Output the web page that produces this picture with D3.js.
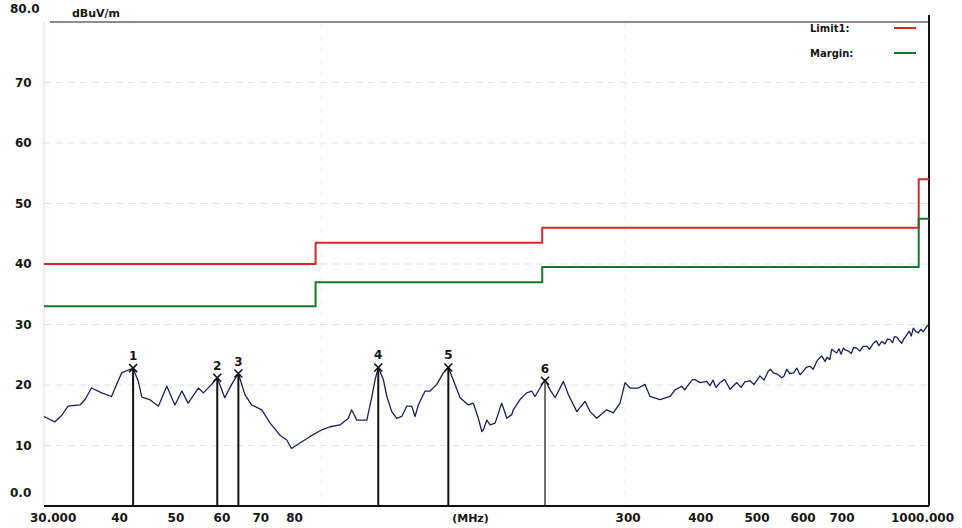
<!DOCTYPE html>
<html>
<head>
<meta charset="utf-8">
<script src="https://cdn.jsdelivr.net/npm/d3@7"></script>
<style>
body { margin: 0; background: #fff; }
text { font-family: "DejaVu Sans", sans-serif; font-weight: bold; fill: #161616; }
</style>
</head>
<body>
<svg id="chart" width="962" height="528"></svg>
<script>
// measured trace (MHz, dBuV/m)
var traceFreq = [30.0, 31.3, 32.2, 33.0, 34.6, 35.3, 36.2, 37.7, 39.2, 40.0, 40.8, 42.2, 42.7, 43.6, 44.2, 45.6, 47.2, 48.8, 50.4, 51.8,
    53.1, 55.3, 56.4, 58.3, 59.6, 61.4, 63.1, 64.8, 66.5, 68.3, 71.1, 73.5, 76.4, 78.5, 80.0, 82.7, 86.1, 90.2, 93.2, 96.9,
    100.2, 101.5, 103.6, 107.8, 109.9, 111.4, 112.8, 115.1, 116.7, 119.0, 121.4, 123.8, 126.3, 128.8, 130.5, 132.2, 135.8, 138.5, 142.2, 146.0,
    148.9, 152.9, 156.0, 161.2, 164.4, 167.7, 170.0, 171.1, 173.4, 175.7, 179.2, 184.0, 187.7, 191.4, 192.6, 197.8, 203.1, 207.2, 209.9, 214.1,
    218.4, 222.8, 227.3, 234.9, 239.6, 247.7, 255.9, 261.1, 268.1, 278.9, 286.3, 294.0, 299.9, 305.9, 316.1, 324.6, 331.1, 344.5, 358.4, 365.6,
    375.4, 380, 387.9, 392, 395.7, 403.6, 414.5, 419.9, 425, 430, 436.9, 445, 454.6, 460, 466.8, 475, 482, 492.0, 500, 511.9,
    520, 529.1, 534, 539.6, 548, 557.9, 563, 569.1, 576, 585, 592.1, 600, 607.8, 615, 624.1, 632, 640.9, 647, 653.7, 662.3,
    668, 675, 680.1, 693.7, 700, 706, 712.1, 718, 726.4, 735, 742, 751.0, 760, 770, 781.3, 790, 802.0, 812, 820, 829.2,
    840, 848, 856.9, 866, 872, 880.0, 888, 897.6, 905, 915.6, 925, 932, 939.8, 948, 958.6, 968, 977.8, 991.1, 1000];
var traceLevel = [14.8, 13.9, 15.0, 16.5, 16.7, 17.6, 19.5, 18.7, 18.1, 20.1, 22.0, 22.6, 22.7, 20.6, 18.0, 17.6, 16.5, 19.8, 16.7, 19.0,
    17.0, 19.5, 18.7, 20.1, 21.2, 17.9, 20.1, 21.9, 18.4, 16.7, 15.9, 13.7, 11.7, 10.9, 9.5, 10.4, 11.5, 12.6, 13.1, 13.4,
    14.5, 15.9, 14.2, 14.2, 17.9, 20.9, 22.9, 20.9, 18.1, 15.6, 14.5, 14.8, 16.5, 16.5, 14.8, 16.7, 19.0, 19.0, 20.1, 22.0,
    22.9, 20.1, 17.9, 16.7, 17.0, 14.5, 12.3, 12.6, 14.2, 13.4, 13.7, 17.0, 14.5, 15.1, 15.9, 17.6, 18.7, 19.0, 18.1, 19.5,
    20.9, 19.2, 17.9, 20.6, 18.4, 15.6, 17.3, 15.6, 14.5, 15.9, 15.4, 17.0, 20.4, 19.5, 19.5, 20.1, 18.1, 17.6, 18.1, 19.2,
    19.8, 19.2, 20.4, 20.9, 20.9, 20.4, 20.6, 19.9, 20.8, 19.6, 20.4, 20.9, 19.3, 19.8, 20.4, 19.6, 20.5, 20.7, 20.1, 21.5,
    20.8, 22.3, 22.6, 22.0, 21.8, 21.2, 21.5, 22.6, 21.9, 22.0, 22.8, 21.7, 22.3, 22.9, 23.1, 22.6, 23.9, 24.4, 24.8, 23.9,
    24.6, 24.2, 25.9, 25.3, 26.0, 25.1, 26.1, 25.8, 25.6, 25.2, 26.2, 26.1, 25.6, 26.4, 26.4, 25.9, 26.9, 27.3, 26.5, 27.2,
    26.8, 27.6, 27.5, 27.0, 28.0, 27.9, 27.4, 26.9, 27.6, 28.3, 28.9, 28.1, 29.4, 28.9, 28.6, 29.2, 28.8, 29.7, 30.0];

// limit and margin lines (step corners)
var limitFreq = [30, 88, 88, 216, 216, 960, 960, 1000];
var limitLevel = [40, 40, 43.5, 43.5, 46, 46, 54, 54];
var marginFreq = [30, 88, 88, 216, 216, 960, 960, 1000];
var marginLevel = [33, 33, 37, 37, 39.5, 39.5, 47.5, 47.5];

// peak markers
var markerLabel = ["1", "2", "3", "4", "5", "6"];
var markerFreq = [42.7, 59.6, 64.8, 112.8, 148.9, 218.4];
var markerLevel = [22.8, 21.2, 21.9, 22.9, 22.9, 20.7];

// axis labels
var yTicks = [0, 10, 20, 30, 40, 50, 60, 70, 80];
var yTickText = ["0.0", "10", "20", "30", "40", "50", "60", "70", "80.0"];
var xTicks = [30, 40, 50, 60, 70, 80, 300, 400, 500, 600, 700, 1000];
var xTickText = ["30.000", "40", "50", "60", "70", "80", "300", "400", "500", "600", "700", "1000.000"];
var gridX = [90, 300];
var legendNames = ["Limit1:", "Margin:"];
var unitLabel = "dBuV/m";
var xUnit = "(MHz)";

var margin = {top: 22, right: 33, bottom: 22, left: 44},
    width = 962 - margin.left - margin.right,
    height = 528 - margin.top - margin.bottom;

var x = d3.scaleLog().domain([30, 1000]).range([0, width]);
var y = d3.scaleLinear().domain([0, 80]).range([height, 0]);

var svg = d3.select("#chart");
var g = svg.append("g").attr("transform", "translate(" + margin.left + "," + margin.top + ")");

// grid
g.append("g").selectAll("line").data(yTicks.slice(1, -1)).enter().append("line")
    .attr("x1", 0).attr("x2", width)
    .attr("y1", function(d) { return y(d); }).attr("y2", function(d) { return y(d); })
    .attr("stroke", "#e2e2e2").attr("stroke-dasharray", "7,5");
g.append("g").selectAll("line").data(gridX).enter().append("line")
    .attr("x1", function(d) { return x(d); }).attr("x2", function(d) { return x(d); })
    .attr("y1", 0).attr("y2", height)
    .attr("stroke", "#ececec").attr("stroke-dasharray", "7,5");

// frame
g.append("line").attr("x1", 0).attr("x2", 0).attr("y1", 0).attr("y2", height)
    .attr("stroke", "#ecd4d4").attr("stroke-width", 1);
g.append("line").attr("x1", 6).attr("x2", width).attr("y1", 0).attr("y2", 0)
    .attr("stroke", "#6e616e").attr("stroke-width", 1.5);
g.append("line").attr("x1", width).attr("x2", width).attr("y1", -7).attr("y2", height)
    .attr("stroke", "#111").attr("stroke-width", 2);
g.append("line").attr("x1", 0).attr("x2", width).attr("y1", height).attr("y2", height)
    .attr("stroke", "#111").attr("stroke-width", 2);

// y labels
g.append("g").selectAll("text").data(yTicks).enter().append("text")
    .attr("x", function(d, i) { return (i == 0 || i == yTicks.length - 1) ? -34 : -29; })
    .attr("y", function(d, i) { return (i == 0 || i == yTicks.length - 1) ? y(d) - 13 : y(d); })
    .attr("dy", "0.36em")
    .style("font-size", "12px")
    .text(function(d, i) { return yTickText[i]; });
g.append("text").attr("x", 28).attr("y", -9).attr("dy", "0.36em")
    .style("font-size", "11px").text(unitLabel);

// x labels
g.append("g").selectAll("text").data(xTicks).enter().append("text")
    .attr("x", function(d) { return x(d); })
    .attr("y", height + 12).attr("dy", "0.36em")
    .attr("text-anchor", function(d, i) { return i == 0 ? "start" : (i == xTicks.length - 1 ? "end" : "middle"); })
    .attr("dx", function(d, i) { return i == 0 ? -14 : (i == xTicks.length - 1 ? 25 : 3); })
    .style("font-size", "12px")
    .text(function(d, i) { return xTickText[i]; });
g.append("text").attr("x", width / 2 - 16).attr("y", height + 12).attr("dy", "0.36em")
    .attr("text-anchor", "middle").style("font-size", "11px").text(xUnit);

// lines
var line = d3.line()
    .x(function(d) { return x(d[0]); })
    .y(function(d) { return y(d[1]); });

g.append("path").datum(d3.zip(limitFreq, limitLevel))
    .attr("d", line).attr("fill", "none").attr("stroke", "#d42a2a").attr("stroke-width", 2);
g.append("path").datum(d3.zip(marginFreq, marginLevel))
    .attr("d", line).attr("fill", "none").attr("stroke", "#16782a").attr("stroke-width", 2);
g.append("path").datum(d3.zip(traceFreq, traceLevel))
    .attr("d", line).attr("fill", "none").attr("stroke", "#1e1e5c").attr("stroke-width", 1.3)
    .attr("stroke-linejoin", "round");

// markers
var markers = g.append("g").selectAll("g").data(d3.zip(markerFreq, markerLevel, markerLabel)).enter().append("g")
    .attr("transform", function(d) { return "translate(" + x(d[0]) + "," + y(d[1]) + ")"; });
markers.append("line").attr("x1", 0).attr("x2", 0)
    .attr("y1", 0).attr("y2", function(d) { return height - y(d[1]); })
    .attr("stroke", "#111").attr("stroke-width", function(d, i) { return i < 5 ? 2 : 1.2; });
markers.append("path").attr("d", "M-4,-4L4,4M-4,4L4,-4")
    .attr("stroke", "#111").attr("stroke-width", 1.6);
markers.append("text").attr("y", -8).attr("text-anchor", "middle")
    .style("font-size", "12px").text(function(d) { return d[2]; });

// legend
var legendColors = ["#d42a2a", "#16782a"];
var legend = g.append("g").selectAll("g").data(legendNames).enter().append("g")
    .attr("transform", function(d, i) { return "translate(" + (width - 119) + "," + (6 + i * 25) + ")"; });
legend.append("text").attr("dy", "0.36em").style("font-size", "10px").text(function(d) { return d; });
legend.append("line").attr("x1", 84).attr("x2", 106).attr("y1", 0).attr("y2", 0)
    .attr("stroke", function(d, i) { return legendColors[i]; }).attr("stroke-width", 2);
</script>
</body>
</html>
